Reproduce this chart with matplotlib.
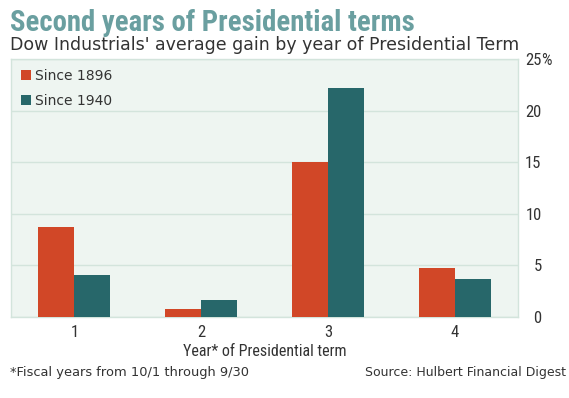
import numpy as np
import matplotlib.pyplot as plt
import logging

logging.getLogger('matplotlib.font_manager').setLevel(logging.ERROR)

# 数据
years = ['1', '2', '3', '4']
since_1896 = [8.7, 0.8, 15.0, 4.7]
since_1940 = [4.1, 1.6, 22.2, 3.7]
y_ticks = [0, 5, 10, 15, 20, 25]

orange = '#D14727'
teal = '#27676A'
bg = '#EEF5F1'
grid_c = '#D3E4DC'
txt_c = '#333333'
narrow = ['Liberation Sans Narrow', 'Arial Narrow', 'Roboto Condensed', 'Noto Sans Condensed', 'Liberation Sans']

fig = plt.figure(figsize=(5.69, 3.98), dpi=100, facecolor='white')
ax = fig.add_axes([11/569, 1-317/398, 507/569, 258/398])
ax.set_facecolor(bg)

x = np.arange(len(years))
w = 0.285
ax.bar(x - w/2, since_1896, w, color=orange, label='Since 1896', zorder=3)
ax.bar(x + w/2, since_1940, w, color=teal, label='Since 1940', zorder=3)

ax.set_xlim(-0.5, 3.5)
ax.set_ylim(0, 25)
ax.set_yticks(y_ticks)
ax.set_yticklabels([str(v) for v in y_ticks], family=narrow, fontsize=12, color=txt_c, ha='right')
ax.yaxis.tick_right()
ax.tick_params(axis='y', length=0, pad=17)
ax.set_xticks(x)
ax.set_xticklabels(years, family=narrow, fontsize=12, color=txt_c)
ax.tick_params(axis='x', length=0, pad=6)
ax.grid(axis='y', color=grid_c, lw=1, zorder=0)
for s in ax.spines.values():
    s.set_color(grid_c)
    s.set_linewidth(1)

xl = ax.set_xlabel('Year* of Presidential term', family=narrow, fontsize=12, color=txt_c, labelpad=3)

leg = ax.legend(loc='upper left', frameon=False, handlelength=0.75, handleheight=0.75,
                handletextpad=0.25, labelspacing=0.8, borderaxespad=0.3,
                prop={'family': 'DejaVu Sans', 'size': 10})
for t in leg.get_texts():
    t.set_color(txt_c)

title = fig.text(10/569, 1-31/398, 'Second years of Presidential terms',
                 family=['Noto Sans Condensed', 'Roboto Condensed', 'Liberation Sans Narrow', 'Liberation Sans'],
                 fontweight='bold', fontsize=22, color='#6A9FA0', ha='left', va='baseline')
sub = fig.text(10/569, 1-50/398, "Dow Industrials' average gain by year of Presidential Term",
               family='DejaVu Sans', fontsize=12, color=txt_c, ha='left', va='baseline')
note = fig.text(10/569, 1-376/398, '*Fiscal years from 10/1 through 9/30',
                family='DejaVu Sans', fontsize=9, color=txt_c, ha='left', va='baseline')
src = fig.text(566/569, 1-376/398, 'Source: Hulbert Financial Digest',
               family='DejaVu Sans', fontsize=9, color=txt_c, ha='right', va='baseline')

# 按参考图的宽度调整字号
renderer = fig.canvas.get_renderer()
for t, target in [(title, 404), (sub, 507), (note, 238), (src, 201), (xl, 163)]:
    wpx = t.get_window_extent(renderer).width
    t.set_fontsize(t.get_fontsize() * target / wpx)

# 25 后面的 %，紧贴数字
fig.canvas.draw()
top_lab = ax.get_yticklabels()[-1]
bb = top_lab.get_window_extent(renderer)
fig.text(bb.x1 / fig.bbox.width, (bb.y0 + bb.y1) / 2 / fig.bbox.height, '%',
         family=narrow, fontsize=12, color=txt_c, ha='left', va='center')

fig.savefig('out.png', dpi=100)
